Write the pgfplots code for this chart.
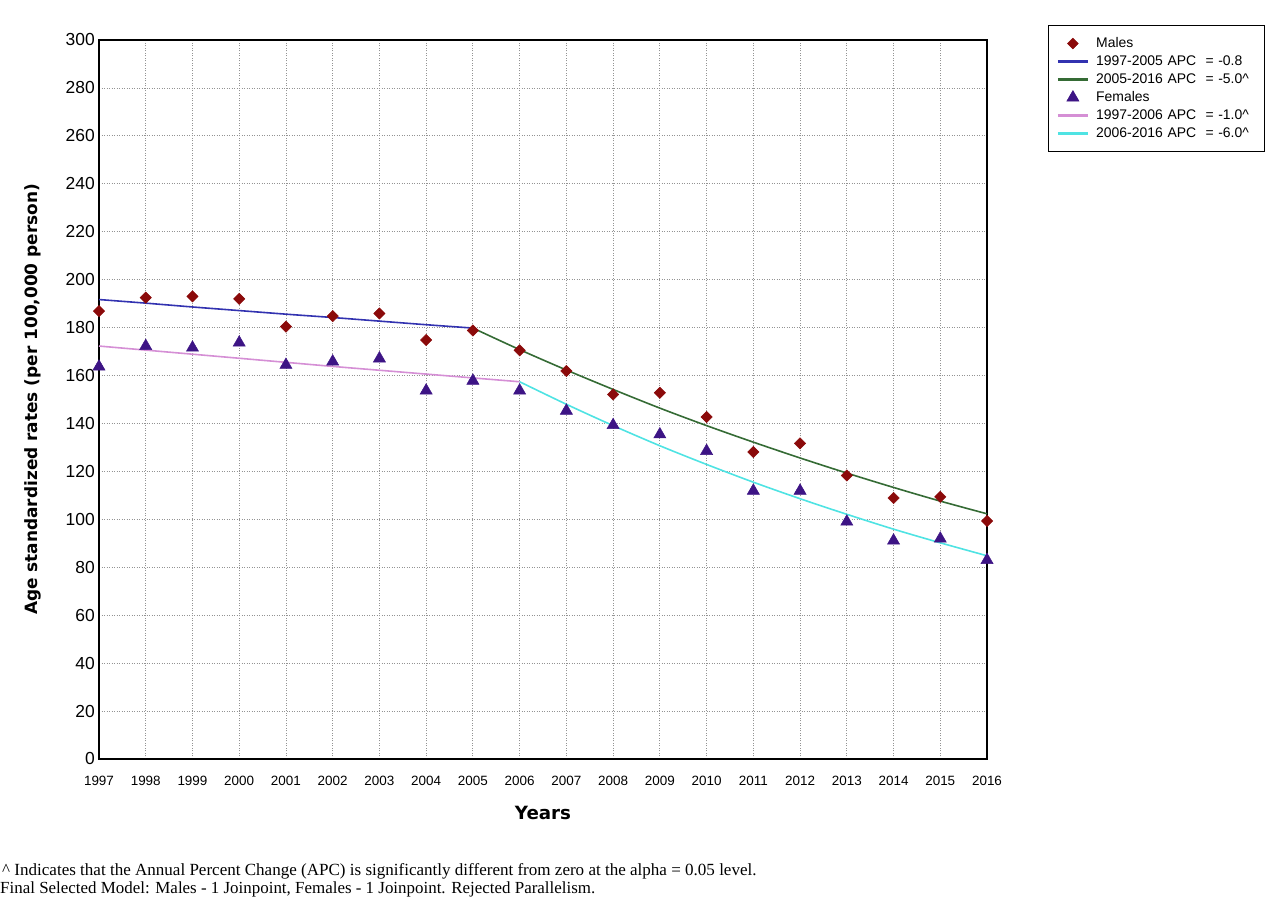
\documentclass[border=0pt]{standalone}
\usepackage{fontspec}
\setmainfont{Liberation Serif}
\newfontfamily\arial{Liberation Sans}
\newfontfamily\dvs{DejaVu Sans}
\usepackage{pgfplots}
\pgfplotsset{compat=1.18}
\definecolor{mred}{HTML}{8B0A0A}
\definecolor{fpur}{HTML}{3D1485}
\definecolor{mblue}{HTML}{3232B0}
\definecolor{mgreen}{HTML}{356B35}
\definecolor{fpink}{HTML}{D58FD5}
\definecolor{fcyan}{HTML}{4FE3E3}
\pgfplotstableread{
x y
1997 186.9
1998 192.5
1999 193.0
2000 192.0
2001 180.4
2002 184.8
2003 185.9
2004 174.8
2005 178.8
2006 170.5
2007 161.9
2008 152.1
2009 152.8
2010 142.7
2011 128.1
2012 131.7
2013 118.3
2014 108.9
2015 109.4
2016 99.3
}\males
\pgfplotstableread{
x y
1997 163.7
1998 172.3
1999 171.6
2000 173.7
2001 164.4
2002 165.8
2003 167.1
2004 153.7
2005 157.8
2006 153.7
2007 145.3
2008 139.3
2009 135.4
2010 128.5
2011 111.9
2012 111.9
2013 99.0
2014 91.1
2015 91.9
2016 83.0
}\females
\pgfplotstableread{
x y
1997 191.7
1998 190.2
1999 188.6
2000 187.1
2001 185.6
2002 184.2
2003 182.7
2004 181.2
2005 179.8
}\mA
\pgfplotstableread{
x y
2005 179.8
2006 170.8
2007 162.3
2008 154.2
2009 146.4
2010 139.1
2011 132.2
2012 125.6
2013 119.3
2014 113.3
2015 107.6
2016 102.3
}\mB
\pgfplotstableread{
x y
1997 172.3
1998 170.6
1999 168.9
2000 167.2
2001 165.5
2002 163.8
2003 162.2
2004 160.6
2005 159.0
2006 157.4
}\fA
\pgfplotstableread{
x y
2006 157.4
2007 148.0
2008 139.1
2009 130.7
2010 122.9
2011 115.5
2012 108.6
2013 102.1
2014 95.9
2015 90.2
2016 84.8
}\fB
\begin{document}
\begin{tikzpicture}[x=1bp,y=1bp]
\useasboundingbox (0,0) rectangle (1280,909);
\begin{axis}[
  at={(99bp,150bp)}, anchor=south west,
  width=888bp, height=719bp, scale only axis,
  xmin=1997, xmax=2016, ymin=0, ymax=300,
  xtick={1997,1998,...,2016}, ytick={0,20,...,300},
  /pgf/number format/1000 sep={},
  /pgf/number format/assume math mode=true,
  grid=major,
  grid style={dash pattern=on 1bp off 1.5bp, color=gray!85, line width=0.8bp},
  axis line style={line width=1.6bp, black},
  major tick length=0pt,
  clip=false,
  x tick label style={font=\arial\fontsize{13.5}{14}\selectfont, anchor=base, yshift=-27bp},
  y tick label style={font=\arial\fontsize{17.5}{18}\selectfont, anchor=east, inner sep=0pt, xshift=-4bp},
  xlabel={Years},
  ylabel={Age standardized rates (per 100,000 person)},
  xlabel style={font=\dvs\bfseries\fontsize{18.3}{20}\selectfont, at={(axis description cs:0.5,-0.0751)}, anchor=center},
  ylabel style={font=\dvs\bfseries\fontsize{17}{19}\selectfont, at={(axis description cs:-0.0743,0.5)}, anchor=center},
  legend style={at={(rel axis cs:1.0687,1.0209)}, anchor=north west, draw=black, line width=1.2bp,
    font=\arial\fontsize{14}{16}\selectfont, row sep=0bp, inner xsep=8bp, inner ysep=9bp,
    nodes={inner sep=2bp, text height=11bp, text depth=3bp}, cells={anchor=west},
    /tikz/every odd column/.append style={column sep=5bp},
    /tikz/every even column/.append style={text width=158bp}},
]
\addlegendimage{legend image code/.code={\path[only marks] plot[mark=square*, mark size=3.8bp, mark options={rotate=45, fill=mred, draw=mred, line width=0.5bp}] coordinates {(15bp,0bp)}; \path (0,0) (30bp,0);}}
\addlegendentry{Males}
\addlegendimage{legend image code/.code={\draw[mblue, line width=2.6bp] (0,0) -- (30bp,0);}}
\addlegendentry{1997-2005 APC\ \ = -0.8}
\addlegendimage{legend image code/.code={\draw[mgreen, line width=2.6bp] (0,0) -- (30bp,0);}}
\addlegendentry{2005-2016 APC\ \ = -5.0\textasciicircum}
\addlegendimage{legend image code/.code={\path[only marks] plot[mark=triangle*, mark size=7bp, mark options={fill=fpur, draw=fpur, line width=0.5bp}] coordinates {(15bp,0bp)}; \path (0,0) (30bp,0);}}
\addlegendentry{Females}
\addlegendimage{legend image code/.code={\draw[fpink, line width=2.6bp] (0,0) -- (30bp,0);}}
\addlegendentry{1997-2006 APC\ \ = -1.0\textasciicircum}
\addlegendimage{legend image code/.code={\draw[fcyan, line width=2.6bp] (0,0) -- (30bp,0);}}
\addlegendentry{2006-2016 APC\ \ = -6.0\textasciicircum}

\addplot[forget plot, mblue, line width=1.6bp, smooth] table[x=x,y=y] {\mA};
\addplot[forget plot, mgreen, line width=1.6bp, smooth] table[x=x,y=y] {\mB};
\addplot[forget plot, fpink, line width=1.6bp, smooth] table[x=x,y=y] {\fA};
\addplot[forget plot, fcyan, line width=1.6bp, smooth] table[x=x,y=y] {\fB};
\addplot[forget plot, only marks, mark=square*, mark size=4bp, mark options={rotate=45, fill=mred, draw=mred, line width=0.5bp}] table[x=x,y=y] {\males};
\addplot[forget plot, only marks, mark=triangle*, mark size=7bp, mark options={fill=fpur, draw=fpur, line width=0.5bp}] table[x=x,y=y] {\females};
\end{axis}
\node[anchor=base west, inner sep=0pt, font=\fontsize{17.1}{18}\selectfont] at (2,33) {\textasciicircum{} Indicates that the Annual Percent Change (APC) is significantly different from zero at the alpha = 0.05 level.};
\node[anchor=base west, inner sep=0pt, font=\fontsize{17}{18}\selectfont] at (0,15) {Final Selected Model: Males - 1 Joinpoint, Females - 1 Joinpoint. Rejected Parallelism.};
\end{tikzpicture}
\end{document}
